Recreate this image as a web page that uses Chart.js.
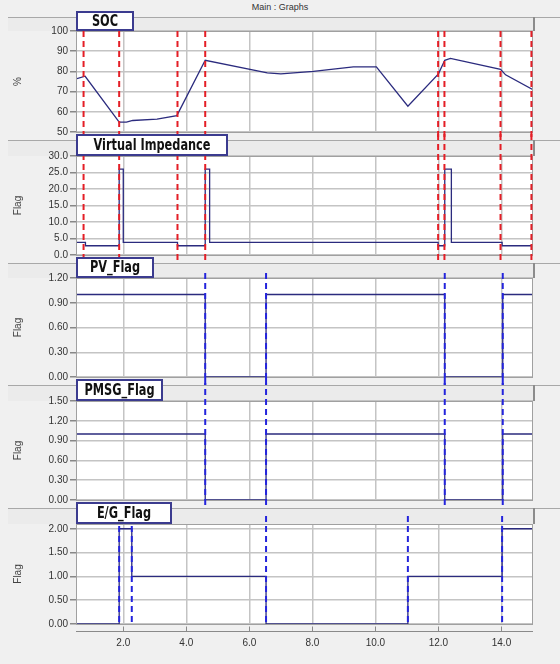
<!DOCTYPE html>
<html>
<head>
<meta charset="utf-8">
<script src="https://cdn.jsdelivr.net/npm/chart.js@4.4.1/dist/chart.umd.min.js"></script>
<style>
  body { margin: 0; background: #f0f0f0; }
  #page { position: relative; width: 560px; height: 664px; overflow: hidden; }
  #title { position: absolute; top: 2px; left: 0; width: 560px; text-align: center;
           font: 9px "Liberation Sans", Arial, sans-serif; color: #333; }
  canvas { position: absolute; left: 0; }
</style>
</head>
<body>
<div id="page">
  <div id="title">Main : Graphs</div>
  <canvas id="p1"></canvas>
  <canvas id="p2"></canvas>
  <canvas id="p3"></canvas>
  <canvas id="p4"></canvas>
  <canvas id="p5"></canvas>
</div>
<script>
// time axis (s)
const xMin = 0.5, xMax = 15.0;
const xTicks = [2, 4, 6, 8, 10, 12, 14];

// state of charge
const socTime  = [0.5, 0.79, 1.87, 2.1, 2.3, 3.07, 3.7, 4.6, 6.57, 7.0, 8.03, 9.3, 10.03, 11.03, 12.0, 12.2, 12.38, 13.97, 14.13, 15.0];
const socValue = [76.3, 77.6, 54.9, 54.9, 55.7, 56.4, 58.1, 85.5, 79.3, 78.8, 80.0, 82.2, 82.2, 62.8, 78.8, 85.5, 86.4, 81.0, 78.3, 70.9];
const socTicks = [50, 60, 70, 80, 90, 100];

// virtual impedance (step)
const impTime  = [0.5, 0.8, 1.87, 2.0, 3.72, 4.6, 4.74, 11.99, 12.2, 12.41, 14.02, 15.0];
const impValue = [3.8, 2.8, 26, 3.8, 2.8, 26, 3.8, 2.8, 26, 3.8, 2.8, 2.8];
const impTicks = [0, 5, 10, 15, 20, 25, 30];

// PV flag
const pvTime  = [0.5, 4.6, 6.53, 12.2, 14.04, 15.0];
const pvValue = [1, 0, 1, 0, 1, 1];
const pvTicks = [0, 0.3, 0.6, 0.9, 1.2];

// PMSG flag
const pmsgTime  = [0.5, 4.6, 6.53, 12.2, 14.04, 15.0];
const pmsgValue = [1, 0, 1, 0, 1, 1];
const pmsgTicks = [0, 0.3, 0.6, 0.9, 1.2, 1.5];

// engine/generator flag
const egTime  = [0.5, 1.87, 2.27, 6.53, 11.03, 14.02, 15.0];
const egValue = [0, 2, 1, 0, 1, 2, 2];
const egTicks = [0, 0.5, 1, 1.5, 2];

// switching instants marked on the panels
const socEvents  = [0.74, 1.87, 3.72, 4.6, 11.99, 12.19, 13.97, 14.95];
const flagEvents = [4.6, 6.53, 12.2, 14.04];
const egEvents   = [1.87, 2.27, 6.53, 11.03, 14.02];

const LINE = '#2b2b7e';
const RED = '#e41e26';
const BLUE = '#2424dc';
const PLOT_RIGHT = 533;
const LIFT = 6; // canvas starts above the separator so the name box can overhang
const NAME_SQUEEZE = 0.84; // narrow look for the panel names

// header strip, white plot background, event markers and name box
const panelDeco = {
  id: 'panelDeco',
  beforeDraw(chart, args, o) {
    const ctx = chart.ctx, a = chart.chartArea;
    ctx.save();
    ctx.fillStyle = '#ebebeb';
    ctx.fillRect(8, LIFT, PLOT_RIGHT - 8, a.top - LIFT);
    ctx.strokeStyle = '#a8a8a8';
    ctx.lineWidth = 1;
    ctx.beginPath();
    ctx.moveTo(8, LIFT + 0.5); ctx.lineTo(chart.width, LIFT + 0.5);
    ctx.stroke();
    ctx.strokeStyle = '#8c8c8c';
    ctx.lineWidth = 2;
    ctx.beginPath();
    ctx.moveTo(PLOT_RIGHT + 1, LIFT); ctx.lineTo(PLOT_RIGHT + 1, a.top);
    ctx.stroke();
    ctx.fillStyle = '#ffffff';
    ctx.fillRect(a.left, a.top, a.right - a.left, a.bottom - a.top);
    ctx.restore();
  },
  afterDraw(chart, args, o) {
    const ctx = chart.ctx, a = chart.chartArea, xs = chart.scales.x;
    ctx.save();
    // plot frame
    ctx.strokeStyle = '#a0a0a0';
    ctx.lineWidth = 1;
    ctx.strokeRect(a.left + 0.5, a.top + 0.5, a.right - a.left - 1, a.bottom - a.top);
    if (o.axisStrip) {
      const y = a.bottom + 7.5;
      ctx.strokeStyle = '#8a8a8a';
      ctx.beginPath();
      ctx.moveTo(a.left, y); ctx.lineTo(a.right, y);
      xTicks.forEach(v => {
        const px = Math.round(xs.getPixelForValue(v)) + 0.5;
        ctx.moveTo(px, y); ctx.lineTo(px, y - 5);
      });
      ctx.stroke();
    }
    // event markers
    const y0 = o.from === 'area' ? a.top - o.fromOffset : o.fromOffset;
    const y1 = o.to === 'area' ? a.bottom : chart.height;
    ctx.strokeStyle = o.eventColor;
    ctx.lineWidth = 2;
    ctx.setLineDash([6, 4]);
    o.events.forEach(v => {
      const px = xs.getPixelForValue(v);
      ctx.beginPath();
      ctx.moveTo(px, y0); ctx.lineTo(px, y1);
      ctx.stroke();
    });
    ctx.setLineDash([]);
    // name box
    ctx.font = 'bold 15px "Liberation Sans Narrow", "DejaVu Sans Condensed", "Liberation Sans", sans-serif';
    const w = o.boxWidth;
    const bx = a.left, by = 0, bh = a.top - by;
    ctx.fillStyle = '#ffffff';
    ctx.fillRect(bx, by, w, bh);
    ctx.strokeStyle = '#3b3b8f';
    ctx.lineWidth = 2;
    ctx.strokeRect(bx + 1, by + 1, w - 2, bh - 2);
    ctx.fillStyle = '#111111';
    ctx.textAlign = 'center';
    ctx.textBaseline = 'middle';
    ctx.translate(bx + w / 2, by + bh / 2 + 1);
    ctx.scale(NAME_SQUEEZE, 1);
    ctx.fillText(o.name, 0, 0);
    ctx.restore();
  }
};

function makePanel(id, cfg) {
  const canvas = document.getElementById(id);
  const top = cfg.sep - LIFT;
  const height = cfg.bottomEdge - top;
  canvas.style.top = top + 'px';
  canvas.width = 560;
  canvas.height = height;

  const points = cfg.time.map((t, i) => ({ x: t, y: cfg.value[i] }));
  const axisH = cfg.showX ? 30 : 0;

  return new Chart(canvas, {
    type: 'line',
    data: {
      datasets: [{
        data: points,
        borderColor: LINE,
        borderWidth: 1.3,
        pointRadius: 0,
        stepped: cfg.stepped ? 'before' : false,
        tension: 0
      }]
    },
    options: {
      responsive: false,
      animation: false,
      devicePixelRatio: 1,
      layout: {
        padding: {
          top: cfg.plotTop - top,
          bottom: cfg.bottomEdge - cfg.plotBottom - axisH,
          left: 0,
          right: 560 - PLOT_RIGHT
        }
      },
      plugins: {
        legend: { display: false },
        tooltip: { enabled: false },
        panelDeco: {
          name: cfg.name,
          boxWidth: cfg.boxWidth,
          events: cfg.events,
          eventColor: cfg.eventColor,
          from: cfg.from, fromOffset: cfg.fromOffset,
          to: cfg.to,
          axisStrip: cfg.showX
        }
      },
      scales: {
        x: {
          type: 'linear',
          min: xMin,
          max: xMax,
          afterBuildTicks: s => { s.ticks = xTicks.map(v => ({ value: v })); },
          afterFit: s => { s.height = axisH; },
          grid: { color: '#c4c4c4', lineWidth: 1.5, drawTicks: false },
          border: { display: false },
          ticks: {
            display: cfg.showX,
            padding: 13,
            color: '#333',
            font: { family: '"Liberation Sans", Arial, sans-serif', size: 10 },
            callback: v => v.toFixed(1)
          }
        },
        y: {
          min: cfg.yMin,
          max: cfg.yMax,
          afterBuildTicks: s => { s.ticks = cfg.ticks.map(v => ({ value: v })); },
          afterFit: s => { s.width = 76; },
          grid: { color: '#c4c4c4', lineWidth: 1.5, tickLength: 6, tickColor: '#888' },
          border: { color: '#7a7a7a', width: 1 },
          ticks: {
            padding: 2,
            color: '#333',
            font: { family: '"Liberation Sans", Arial, sans-serif', size: 10 },
            callback: v => v.toFixed(cfg.decimals)
          },
          title: {
            display: true,
            text: cfg.unit,
            color: '#444',
            padding: { top: 12, bottom: 0 },
            font: { family: '"Liberation Sans", Arial, sans-serif', size: 10 }
          }
        }
      }
    },
    plugins: [panelDeco]
  });
}

makePanel('p1', {
  name: 'SOC', boxWidth: 58, unit: '%', time: socTime, value: socValue, ticks: socTicks,
  yMin: 50, yMax: 100, decimals: 0, stepped: false,
  sep: 17, plotTop: 31, plotBottom: 133, bottomEdge: 140,
  events: socEvents, eventColor: RED, from: 'area', fromOffset: 0, to: 'bottom'
});
makePanel('p2', {
  name: 'Virtual Impedance', boxWidth: 152, unit: 'Flag', time: impTime, value: impValue, ticks: impTicks,
  yMin: 0, yMax: 30, decimals: 1, stepped: true,
  sep: 140, plotTop: 156, plotBottom: 255, bottomEdge: 263,
  events: socEvents, eventColor: RED, from: 'top', fromOffset: 0, to: 'bottom'
});
makePanel('p3', {
  name: 'PV_Flag', boxWidth: 78, unit: 'Flag', time: pvTime, value: pvValue, ticks: pvTicks,
  yMin: 0, yMax: 1.2, decimals: 2, stepped: true,
  sep: 263, plotTop: 278, plotBottom: 378, bottomEdge: 385,
  events: flagEvents, eventColor: BLUE, from: 'area', fromOffset: 5, to: 'bottom'
});
makePanel('p4', {
  name: 'PMSG_Flag', boxWidth: 87, unit: 'Flag', time: pmsgTime, value: pmsgValue, ticks: pmsgTicks,
  yMin: 0, yMax: 1.5, decimals: 2, stepped: true,
  sep: 385, plotTop: 401, plotBottom: 500, bottomEdge: 510,
  events: flagEvents, eventColor: BLUE, from: 'top', fromOffset: 0, to: 'bottom'
});
makePanel('p5', {
  name: 'E/G_Flag', boxWidth: 96, unit: 'Flag', time: egTime, value: egValue, ticks: egTicks,
  yMin: 0, yMax: 2.1, decimals: 2, stepped: true,
  sep: 508, plotTop: 524, plotBottom: 624, bottomEdge: 664, showX: true,
  events: egEvents, eventColor: BLUE, from: 'area', fromOffset: 8, to: 'area'
});
</script>
</body>
</html>
